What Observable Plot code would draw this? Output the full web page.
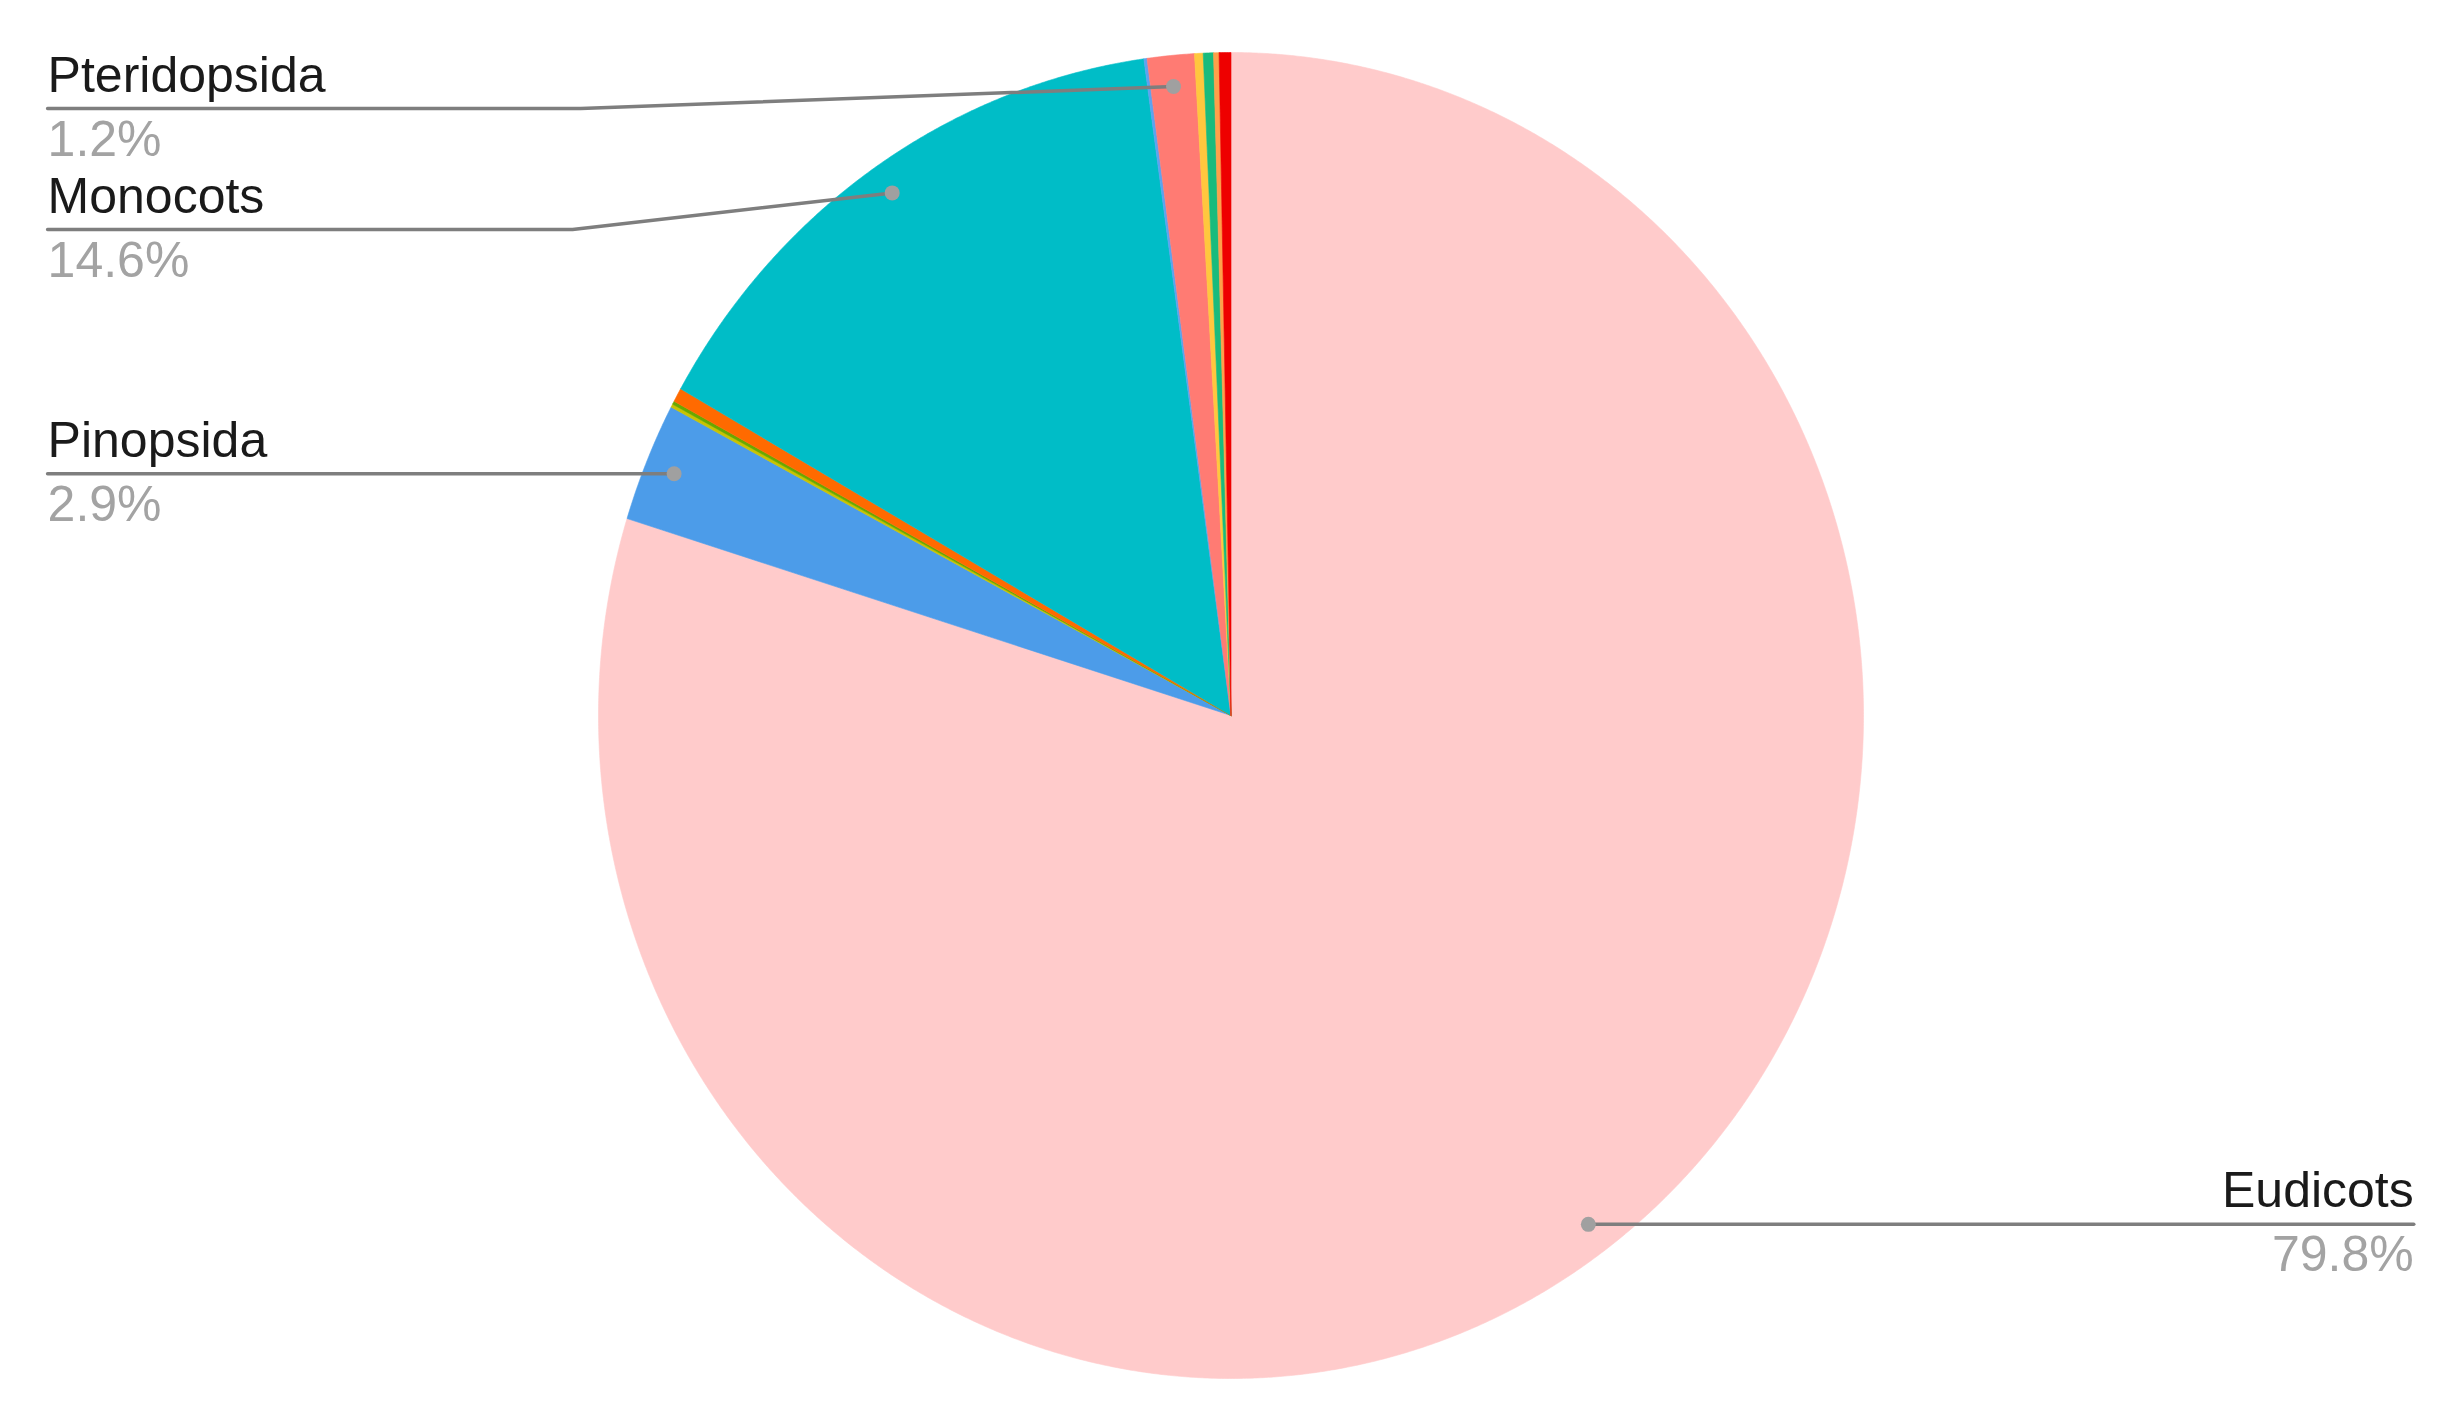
<!DOCTYPE html>
<html><head><meta charset="utf-8">
<script src="https://cdn.jsdelivr.net/npm/d3@7"></script>
<script src="https://cdn.jsdelivr.net/npm/@observablehq/plot@0.6"></script>
<style>html,body{margin:0;padding:0;background:#fff}#chart svg{display:block}</style>
</head><body><div id="chart"></div>
<script>
// ---- data ----
const categories = ["Eudicots","Pinopsida","Minor A","Minor B","Minor C","Monocots","Minor D","Pteridopsida","Minor E","Minor F","Minor G","Minor H"];
const shares     = [79.8, 2.9, 0.08, 0.08, 0.34, 14.6, 0.08, 1.2, 0.22, 0.26, 0.14, 0.3];
const labelled   = ["Eudicots","Pinopsida","Monocots","Pteridopsida"];

// ---- style ----
const palette = ["#ffcbcb","#4c9ce9","#c9c300","#69a800","#ff6a00","#00bdc7","#5da2f0","#ff7b73","#ffc73e","#19bb7d","#ffa04a","#ee0000"];

// ---- layout (unit pie coordinates) ----
const dotRadius = 0.953;
const leftX = -1.871, rightX = 1.870;
const labelLayout = {
  Eudicots:     {side: "right"},
  Pinopsida:    {side: "left"},
  Monocots:     {side: "left", rowY: 0.733,  elbowX: -1.041},
  Pteridopsida: {side: "left", rowY: 0.9155, elbowX: -1.028}
};

const arcs = d3.pie().sort(null).value(d => d).startAngle(0).endAngle(2 * Math.PI)(shares);

const poly = [];
arcs.forEach((a, i) => {
  const cat = categories[i];
  const n = Math.max(2, Math.ceil((a.endAngle - a.startAngle) / (Math.PI / 720)));
  poly.push({cat, x: 0, y: 0});
  for (let k = 0; k <= n; k++) {
    const t = a.startAngle + (a.endAngle - a.startAngle) * k / n;
    poly.push({cat, x: Math.sin(t), y: Math.cos(t)});
  }
  poly.push({cat, x: 0, y: 0});
});

const dots = [], leaders = [], labels = [];
labelled.forEach(name => {
  const i = categories.indexOf(name);
  const a = arcs[i];
  const m = (a.startAngle + a.endAngle) / 2;
  const dx = dotRadius * Math.sin(m), dy = dotRadius * Math.cos(m);
  const L = labelLayout[name];
  const rowY = L.rowY ?? dy;
  const endX = L.side === "left" ? leftX : rightX;
  dots.push({name, x: dx, y: dy});
  leaders.push({name, x: dx, y: dy});
  if (L.elbowX !== undefined) leaders.push({name, x: L.elbowX, y: rowY});
  leaders.push({name, x: endX, y: rowY});
  labels.push({name, side: L.side, x: endX, y: rowY, pct: shares[i].toFixed(1) + "%"});
});

const font = "'Liberation Sans', Arial, Helvetica, sans-serif";
const textMarks = [];
for (const side of ["left", "right"]) {
  const data = labels.filter(d => d.side === side);
  const anchor = side === "left" ? "start" : "end";
  textMarks.push(Plot.text(data, {x: "x", y: "y", text: "name", textAnchor: anchor, lineAnchor: "bottom", dy: -17, fontSize: 50, fill: "#1a1a1a"}));
  textMarks.push(Plot.text(data, {x: "x", y: "y", text: "pct", textAnchor: anchor, lineAnchor: "bottom", dy: 47, fontSize: 50, fill: "#a3a3a3"}));
}

const chart = Plot.plot({
  width: 2457,
  height: 1417,
  margin: 0,
  style: {fontFamily: font, background: "#fff"},
  x: {domain: [-1, 1], range: [598, 1863], axis: null},
  y: {domain: [-1, 1], range: [1378, 52], axis: null},
  color: {domain: categories, range: palette},
  marks: [
    Plot.line(poly, {x: "x", y: "y", z: "cat", fill: "cat", stroke: "cat", strokeWidth: 0.6, curve: "linear"}),
    Plot.line(leaders, {x: "x", y: "y", z: "name", stroke: "#7e7e7e", strokeWidth: 3.5}),
    Plot.dot(dots, {x: "x", y: "y", r: 7.5, fill: "#a0a0a0", stroke: "none"}),
    ...textMarks
  ]
});
document.getElementById("chart").appendChild(chart);
</script>
</body></html>
